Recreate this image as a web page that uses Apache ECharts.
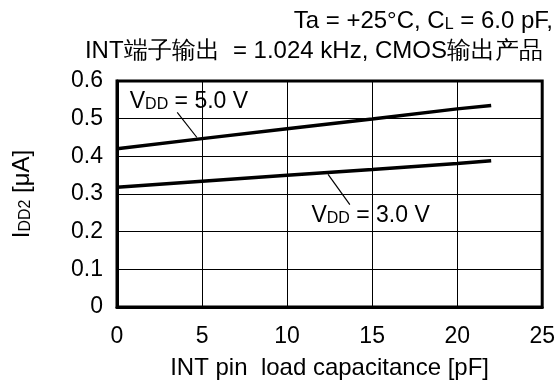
<!DOCTYPE html>
<html><head><meta charset="utf-8">
<script src="https://cdn.jsdelivr.net/npm/echarts@6/dist/echarts.min.js"></script>
<style>html,body{margin:0;padding:0;background:#fff}#c{width:558px;height:385px}</style>
</head><body><div id="c"></div>
<script>
const capacitance5 = [0, 5, 10, 15, 20, 22];
const current5 = [0.42, 0.447, 0.473, 0.499, 0.526, 0.535];
const capacitance3 = [0, 5, 10, 15, 20, 22];
const current3 = [0.318, 0.334, 0.35, 0.365, 0.381, 0.388];
const xTicks = [0, 5, 10, 15, 20, 25];
const yTicks = [0, 0.1, 0.2, 0.3, 0.4, 0.5, 0.6];
const leader5 = [[3.54, 0.517], [4.7, 0.450]];
const leader3 = [[12.41, 0.352], [13.69, 0.272]];
const label5Pos = [0.75, 0.546];
const label3Pos = [11.43, 0.243];

const FONT = '"Liberation Sans", Arial, sans-serif';
const FS = 23;
const FN = 24;
const chart = echarts.init(document.getElementById('c'));
const zip = (a, b) => a.map((v, i) => [v, b[i]]);
const option = {
  animation: false,
  textStyle: { fontFamily: FONT },
  grid: { left: 117, right: 10, top: 81, bottom: 72, show: true, borderColor: '#000', borderWidth: 3, containLabel: false },
  xAxis: {
    type: 'value', min: xTicks[0], max: xTicks[xTicks.length - 1], interval: 5,
    axisLine: { show: true, lineStyle: { color: '#000', width: 3 } },
    axisTick: { show: false },
    splitLine: { show: true, lineStyle: { color: '#000', width: 1 } },
    axisLabel: { color: '#000', fontSize: FS, fontFamily: FONT, margin: 18 },
    name: 'INT pin  load capacitance [pF]', nameLocation: 'middle', nameGap: 49,
    nameTextStyle: { color: '#000', fontSize: FN, fontFamily: FONT }
  },
  yAxis: {
    type: 'value', min: yTicks[0], max: yTicks[yTicks.length - 1], interval: 0.1,
    axisLine: { show: true, lineStyle: { color: '#000', width: 3 } },
    axisTick: { show: false },
    splitLine: { show: true, lineStyle: { color: '#000', width: 1 } },
    axisLabel: { color: '#000', fontSize: FS, fontFamily: FONT, margin: 14 },
    name: '{a|I}{b|DD2}{a| [μA]}', nameLocation: 'middle', nameGap: 83, nameRotate: 90,
    nameTextStyle: { color: '#000', fontFamily: FONT,
      rich: { a: { fontSize: FN, color: '#000', fontFamily: FONT }, b: { fontSize: 16, color: '#000', fontFamily: FONT, verticalAlign: 'bottom' } } }
  },
  series: [
    { type: 'line', data: zip(capacitance5, current5), showSymbol: false, lineStyle: { color: '#000', width: 3.5 }, z: 5 },
    { type: 'line', data: zip(capacitance3, current3), showSymbol: false, lineStyle: { color: '#000', width: 3.5 }, z: 5 },
    { type: 'line', data: leader5, showSymbol: false, lineStyle: { color: '#000', width: 1.2 } },
    { type: 'line', data: leader3, showSymbol: false, lineStyle: { color: '#000', width: 1.2 } }
  ]
};
chart.setOption(option);

const rich = { a: { fontSize: FN, color: '#000', fontFamily: FONT }, b: { fontSize: 16, color: '#000', fontFamily: FONT, verticalAlign: 'bottom' } };
const richA = { a: { fontSize: FS, color: '#000', fontFamily: FONT }, b: { fontSize: 16, color: '#000', fontFamily: FONT, verticalAlign: 'bottom' } };
const p5 = chart.convertToPixel({ gridIndex: 0 }, label5Pos);
const p3 = chart.convertToPixel({ gridIndex: 0 }, label3Pos);
chart.setOption({
  graphic: [
    { type: 'text', x: 553, y: 21, z: 10, style: { text: '{a|Ta = +25°C, C}{b|L}{a| = 6.0 pF,}', rich: rich, align: 'right', verticalAlign: 'middle' } },
    { type: 'text', x: 543, y: 51, z: 10, style: { text: 'INT端子输出  = 1.024 kHz, CMOS输出产品', fill: '#000', font: FN + 'px ' + FONT, align: 'right', verticalAlign: 'middle' } },
    { type: 'text', x: p5[0], y: p5[1], z: 10, style: { text: '{a|V}{b|DD}{a| = 5.0 V}', rich: richA, align: 'left', verticalAlign: 'middle' } },
    { type: 'text', x: p3[0], y: p3[1], z: 10, style: { text: '{a|V}{b|DD}{a| = 3.0 V}', rich: richA, align: 'left', verticalAlign: 'middle' } }
  ]
});
</script></body></html>
